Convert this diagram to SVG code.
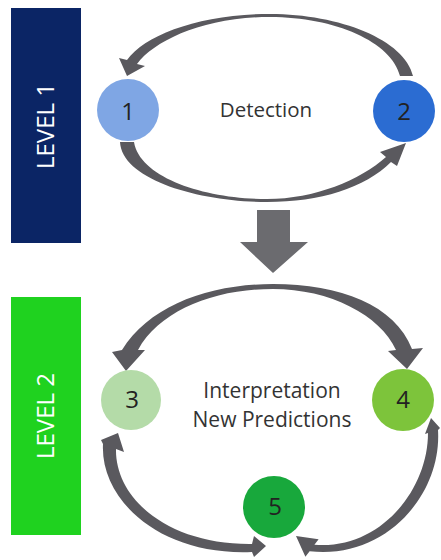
<svg xmlns="http://www.w3.org/2000/svg" width="441" height="560" viewBox="0 0 441 560">
<style>
.lvl{font-family:"Open Sans","Liberation Sans",sans-serif;font-size:24px;fill:#ffffff;text-anchor:middle}
.num{font-family:"Open Sans","Liberation Sans",sans-serif;font-size:24px;fill:#222222;text-anchor:middle}
.lbl{font-family:"Open Sans","Liberation Sans",sans-serif;font-size:20.5px;fill:#333333;text-anchor:middle}
.arc{fill:#5a595e}
</style>
<rect width="441" height="560" fill="#ffffff"/>
<g id="level1">
<rect x="11" y="8" width="70" height="235" fill="#0b2565"/>
<text class="lvl" transform="translate(54,126) rotate(-90)">LEVEL 1</text>
</g>
<g id="level2">
<rect x="11" y="297" width="70" height="238" fill="#1fd21f"/>
<text class="lvl" transform="translate(54,416) rotate(-90)">LEVEL 2</text>
</g>
<g id="connectors">
<path class="arc" d="M 413 76 C 405 40, 340 14, 270 14 C 200 14, 145 35, 127 60 L 119 58 L 127 76 L 145 66 L 137 64 C 155 40, 205 17, 270 17 C 335 17, 392 42, 400 76 Z"/>
<path class="arc" d="M 120 142 C 122 180, 200 202, 267 202 C 320 202, 365 188, 391 162 L 397 166 L 406 143 L 380 152 L 386 157 C 360 180, 315 199, 267 199 C 205 199, 140 178, 134 142 Z"/>
<polygon points="257,210 290,210 290,242 308,242 273,273 240,242 257,242" fill="#6b6b6f"/>
<path class="arc" d="M 122 350 C 150 305, 210 284, 273 284 C 340 284, 395 305, 412 349 L 423 348 L 407 369 L 388 351 L 396 350 C 380 315, 330 289, 273 289 C 215 289, 160 310, 138 350 L 145 350 L 126 371 L 112 352 Z"/>
<path class="arc" d="M 103 444 L 101 440 L 118 433 L 124 452 L 116 449 C 115 500, 170 545, 252 544 L 254 536 L 266 546 L 254 557 L 252 552 C 160 556, 100 500, 103 444 Z"/>
<path class="arc" d="M 438 430 C 442 495, 385 560, 309.6 551.2 L 305.4 556.8 L 296 536 L 318.6 539.2 L 314.4 544.8 C 380 550, 428 490, 428 433 L 425 434 L 431 418 L 440 428 Z"/>
</g>
<g id="node1">
<circle cx="128" cy="110" r="31" fill="#7fa6e4"/>
<text class="num" x="128" y="120">1</text>
</g>
<g id="node2">
<circle cx="404" cy="111" r="31" fill="#2b6cd2"/>
<text class="num" x="404" y="120">2</text>
</g>
<g id="node3">
<circle cx="131" cy="400" r="30" fill="#b4dba8"/>
<text class="num" x="132" y="408">3</text>
</g>
<g id="node4">
<circle cx="403" cy="400" r="31" fill="#7dc43b"/>
<text class="num" x="403" y="408">4</text>
</g>
<g id="node5">
<circle cx="274" cy="507" r="31" fill="#18a83c"/>
<text class="num" x="275" y="515">5</text>
</g>
<g id="labels">
<text class="lbl" x="266" y="117">Detection</text>
<text class="lbl" x="272" y="398" style="font-size:21px">Interpretation</text>
<text class="lbl" x="272" y="427" style="font-size:21px">New Predictions</text>
</g>
</svg>
